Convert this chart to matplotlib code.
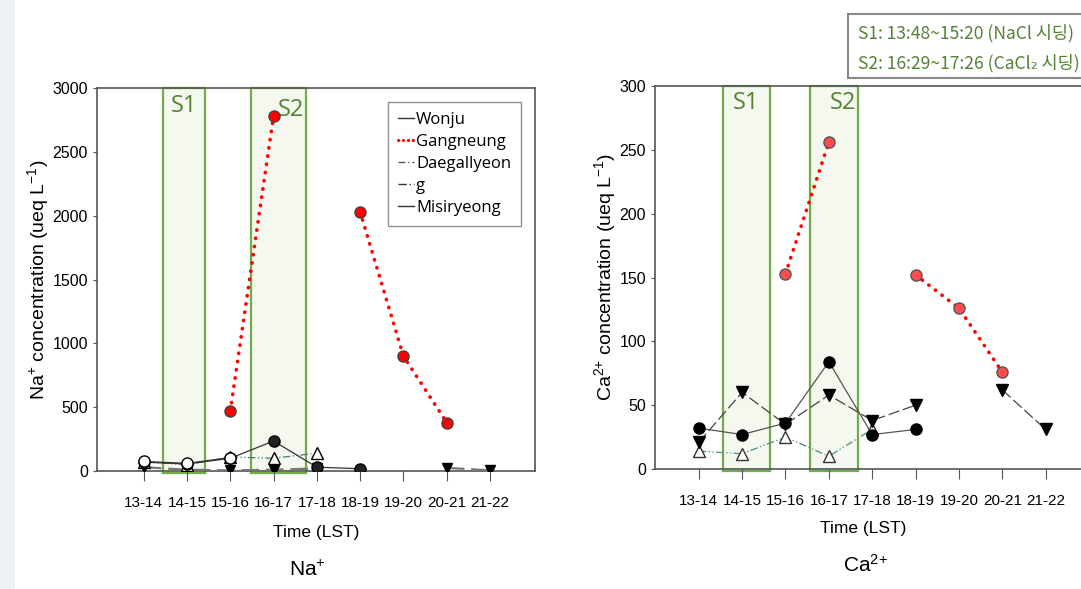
import numpy as np
import matplotlib
matplotlib.use('Agg')
import matplotlib.pyplot as plt
from matplotlib.patches import Rectangle
from matplotlib.lines import Line2D

plt.rcParams['font.family'] = ['Liberation Sans', 'DejaVu Sans']
plt.rcParams['mathtext.default'] = 'regular'

times = ['13-14', '14-15', '15-16', '16-17', '17-18', '18-19', '19-20', '20-21', '21-22']
nan = np.nan

# Na+ (ueq/L)
na_wonju = [70, 55, 100, 235, 30, 18, nan, nan, nan]
na_gangneung = [nan, nan, 470, 2780, nan, 2030, 900, 380, nan]
na_daegallyeon = [30, 10, 5, 10, 20, nan, nan, 25, 5]
na_g = [75, 60, 105, nan, nan, nan, nan, nan, nan]
na_misiryeong = [70, 50, 110, 100, 140, nan, nan, nan, nan]

# Ca2+ (ueq/L)
ca_wonju = [32, 27, 36, 84, 27, 31, nan, nan, nan]
ca_gangneung = [nan, nan, 153, 256, nan, 152, 126, 76, nan]
ca_daegallyeon = [21, 60, 35, 58, 38, 50, nan, 62, 31]
ca_misiryeong = [14, 12, 25, 10, 31, nan, nan, nan, nan]

legend_names = ['Wonju', 'Gangneung', 'Daegallyeon', 'g', 'Misiryeong']

green_edge = '#70ad47'
green_fill = '#f4f8ef'
green_text = '#548235'
spine_c = '#555555'
ui = ['Open Sans', 'DejaVu Sans']

fig = plt.figure(figsize=(10.81, 5.89), dpi=100)
fig.patches.append(Rectangle((0, 0), 15 / 1081, 1, transform=fig.transFigure,
                             facecolor='#eef2f7', edgecolor='none', zorder=0))

ax1 = fig.add_axes([0.0897, 0.2003, 0.4052, 0.6503])
ax2 = fig.add_axes([0.6059, 0.2037, 0.4035, 0.6503])

x = np.arange(len(times))


def seed_boxes(ax, spans, top):
    for a, b in spans:
        ax.add_patch(Rectangle((a, -top * 0.006), b - a, top * 1.006, facecolor=green_fill,
                               edgecolor=green_edge, lw=1.6, zorder=1, clip_on=False))


def style(ax, ymax, step, xlim):
    ax.set_xlim(*xlim)
    ax.set_ylim(0, ymax)
    ax.set_yticks(np.arange(0, ymax + 1, step))
    ax.set_xticks(x)
    ax.set_xticklabels(times, fontsize=11)
    ax.tick_params(axis='x', direction='out', length=7, color=spine_c, pad=11)
    ax.tick_params(axis='y', direction='out', length=3, color=spine_c, labelsize=11.5)
    for s in ax.spines.values():
        s.set_color(spine_c)
        s.set_linewidth(1.2)


red_kw = dict(color='red', ls=(0, (0.1, 2.2)), lw=2.6, dash_capstyle='round', marker='o', ms=8)

# ---- Na+ ----
seed_boxes(ax1, [(0.45, 1.41), (2.49, 3.76)], 3000)
ax1.text(0.93, 2950, 'S1', color=green_text, fontsize=17, family=ui, ha='center', va='top', zorder=5)
ax1.text(3.39, 2920, 'S2', color=green_text, fontsize=17, family=ui, ha='center', va='top', zorder=5)

ax1.plot(x, na_daegallyeon, color='#777777', ls=(0, (8, 3)), lw=1.6, marker='v', ms=7,
         mfc='black', mec='black', zorder=3)
ax1.plot(x, na_misiryeong, color='#4a7a7a', ls=(0, (6, 2, 1, 2, 1, 2)), lw=0.9, marker='^', ms=8,
         mfc='white', mec='black', zorder=3)
ax1.plot(x, na_wonju, color='#333333', lw=0.9, marker='o', ms=8, mfc='#222222', mec='black', zorder=4)
ax1.plot(x, na_g, color='#333333', lw=0.9, marker='o', ms=8, mfc='white', mec='black', zorder=4)
ax1.plot(x, na_gangneung, mfc='red', mec='#444444', zorder=5, **red_kw)
style(ax1, 3000, 500, (-1.08, 9.04))
ax1.set_ylabel('Na$^{{+}}$ concentration (ueq L$^{-1}$)', fontsize=14, labelpad=1)

handles = [Line2D([], [], color='#333333', lw=1),
           Line2D([], [], color='red', ls=(0, (0.1, 1.5)), lw=2.2, dash_capstyle='round'),
           Line2D([], [], color='#555555', ls=(0, (5, 2, 1, 2)), lw=1),
           Line2D([], [], color='#333333', ls=(0, (6, 2, 1, 2)), lw=1),
           Line2D([], [], color='#333333', lw=1)]
leg = ax1.legend(handles, legend_names, loc='upper left', bbox_to_anchor=(0.645, 0.985),
                 frameon=True, fancybox=False, handlelength=1.0, handletextpad=0.1,
                 labelspacing=0.36, borderpad=0.6, prop={'family': ui, 'size': 12})
leg.get_frame().set_edgecolor('#777777')
leg.get_frame().set_linewidth(1.0)
leg.set_zorder(6)

# ---- Ca2+ ----
seed_boxes(ax2, [(0.56, 1.64), (2.56, 3.67)], 300)
ax2.text(1.08, 296, 'S1', color=green_text, fontsize=17, family=ui, ha='center', va='top', zorder=5)
ax2.text(3.32, 296, 'S2', color=green_text, fontsize=17, family=ui, ha='center', va='top', zorder=5)

ax2.plot(x, ca_misiryeong, color='#4a8a8a', ls=(0, (6, 2, 1, 2, 1, 2)), lw=0.9, marker='^', ms=8,
         mfc='white', mec='#333333', zorder=3)
ax2.plot(x, ca_daegallyeon, color='#444444', ls=(0, (9, 3)), lw=0.9, marker='v', ms=8,
         mfc='black', mec='black', zorder=3)
ax2.plot(x, ca_wonju, color='#555555', lw=0.9, marker='o', ms=8, mfc='black', mec='black', zorder=4)
ax2.plot(x, ca_gangneung, mfc='#ff4d4d', mec='#555555', zorder=5, **red_kw)
style(ax2, 300, 50, (-1.01, 9.05))
ax2.set_ylabel('Ca$^{2{+}}$ concentration (ueq L$^{-1}$)', fontsize=14, labelpad=1)

# bottom captions
fig.text(316 / 1081, 1 - 532 / 589, 'Time (LST)', fontsize=12.5, ha='center', va='center')
fig.text(863 / 1081, 1 - 528 / 589, 'Time (LST)', fontsize=12.5, ha='center', va='center')
fig.text(307 / 1081, 1 - 570 / 589, 'Na$^{{+}}$', fontsize=15, ha='center', va='center')
fig.text(865 / 1081, 1 - 565 / 589, 'Ca$^{2{+}}$', fontsize=15, ha='center', va='center')

# seeding note
fig.patches.append(Rectangle((848 / 1081, 1 - 78 / 589), 240 / 1081, 64 / 589, transform=fig.transFigure,
                             facecolor='white', edgecolor='#888888', lw=1.5, zorder=5))
kr = ['Noto Sans CJK KR', 'DejaVu Sans']
fig.text(858 / 1081, 1 - 33 / 589, 'S1: 13:48~15:20 (NaCl 시딩)', family=kr, fontsize=12.6,
         color=green_text, va='center', zorder=6)
fig.text(858 / 1081, 1 - 63 / 589, 'S2: 16:29~17:26 (CaCl₂ 시딩)', family=kr, fontsize=12.6,
         color=green_text, va='center', zorder=6)

fig.savefig('out.png', dpi=100)
